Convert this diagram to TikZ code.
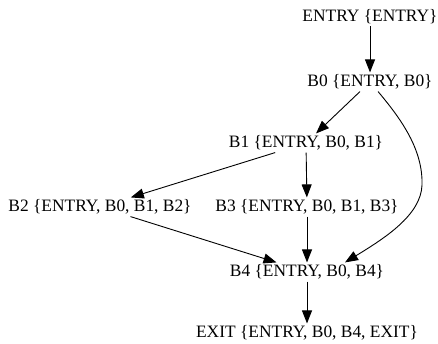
\documentclass[tikz,border=0pt]{standalone}
\usepackage{fontspec}
\setmainfont{Liberation Serif}
\usetikzlibrary{arrows.meta}

\begin{document}
\begin{tikzpicture}[x=1pt, y=-1pt]

\tikzstyle{block}=[inner sep=2pt, font=\fontsize{17.4}{20}\selectfont]
\tikzstyle{connect}=[-{Triangle[length=13pt, width=10pt]}, line width=0.9pt]

\useasboundingbox (0,0) rectangle (438,343);

\node[block] (entry) at (370,17)  {ENTRY \{ENTRY\}};
\node[block] (b0) at (370,82)  {B0 \{ENTRY, B0\}};
\node[block] (b1) at (306,143)  {B1 \{ENTRY, B0, B1\}};
\node[block] (b2) at (100,207)  {B2 \{ENTRY, B0, B1, B2\}};
\node[block] (b3) at (307,207)  {B3 \{ENTRY, B0, B1, B3\}};
\node[block] (b4) at (307,272)  {B4 \{ENTRY, B0, B4\}};
\node[block] (exit) at (307,333)  {EXIT \{ENTRY, B0, B4, EXIT\}};


\path (entry) [connect]  edge (b0);
\path (b0) [connect]  edge (b1);
\path (b1) [connect]  edge (b2);
\path (b1) [connect]  edge (b3);
\path (b2) [connect]  edge (b4);
\path (b3) [connect]  edge (b4);
\path (b4) [connect]  edge (exit);

%\path (b0) [connect]  edge (b4);
\draw[connect] (b0) .. controls (402,120) and (423,150) .. (422,185)
  .. controls (421,215) and (385,238) .. ([xshift=38pt]b4.north);

\end{tikzpicture}
\end{document}
